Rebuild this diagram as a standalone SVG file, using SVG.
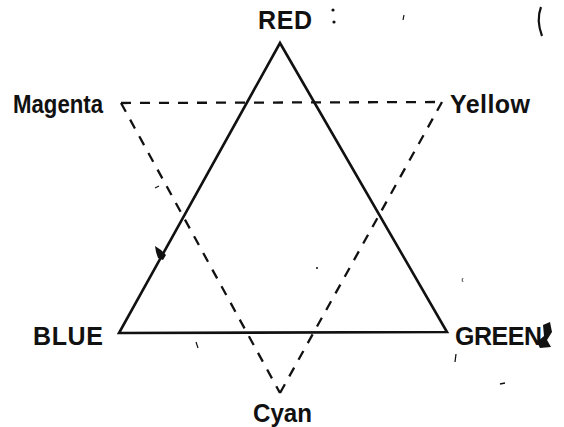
<svg xmlns="http://www.w3.org/2000/svg" width="564" height="427" viewBox="0 0 564 427">
<style>
.lbl{font-family:"Liberation Sans",Arial,sans-serif;font-size:25px;font-weight:bold;fill:#111}
.solid{fill:none;stroke:#111;stroke-width:2.6;stroke-linejoin:miter}
.dash{fill:none;stroke:#111;stroke-width:2.3;stroke-dasharray:10 9}
.speck{fill:#111}
</style>
<rect width="564" height="427" fill="#fff"/>
<g id="connectors">
<polygon class="solid" points="280,43 447,332 119,333"/>
<path class="dash" d="M121,103 L442,102"/>
<path class="dash" d="M442,102 L280,393"/>
<path class="dash" d="M121,103 L280,393"/>
</g>
<g id="node-red"><text class="lbl" x="258" y="29" textLength="54" lengthAdjust="spacing">RED</text></g>
<g id="node-magenta"><text class="lbl" x="13" y="113" textLength="90" lengthAdjust="spacingAndGlyphs">Magenta</text></g>
<g id="node-yellow"><text class="lbl" x="450" y="113" textLength="80" lengthAdjust="spacing">Yellow</text></g>
<g id="node-blue"><text class="lbl" x="33" y="345" textLength="70" lengthAdjust="spacing">BLUE</text></g>
<g id="node-green"><text class="lbl" x="455" y="345" textLength="87" lengthAdjust="spacing">GREEN</text></g>
<g id="node-cyan"><text class="lbl" x="253" y="422" textLength="59" lengthAdjust="spacingAndGlyphs">Cyan</text></g>
<g id="specks">
<path class="speck" d="M155,246 L161,250 L166,255 L163,260 L158,258 L156,252 Z"/>
<circle class="speck" cx="333" cy="10" r="1.6"/>
<circle class="speck" cx="334" cy="22" r="1.6"/>
<path d="M404,15 L403,20" stroke="#111" stroke-width="1.2"/>
<path d="M541,7 Q536,20 542,36" fill="none" stroke="#111" stroke-width="2.2"/>
<path d="M196,342 L198,348" stroke="#111" stroke-width="1.2"/>
<path class="speck" d="M543,325 L550,322 L552,332 L547,340 L551,347 L540,348 L537,342 L544,336 Z"/>
<path d="M456,354 L455,362" stroke="#111" stroke-width="1.2"/>
<path d="M500,384 L505,383" stroke="#111" stroke-width="1.5"/>
<circle class="speck" cx="317" cy="268" r="1"/>
<path d="M155,188 L159,186" stroke="#111" stroke-width="1.2"/>
<path d="M463,278 q-2,2 0,4" fill="none" stroke="#111" stroke-width="0.8"/>
</g>
</svg>
